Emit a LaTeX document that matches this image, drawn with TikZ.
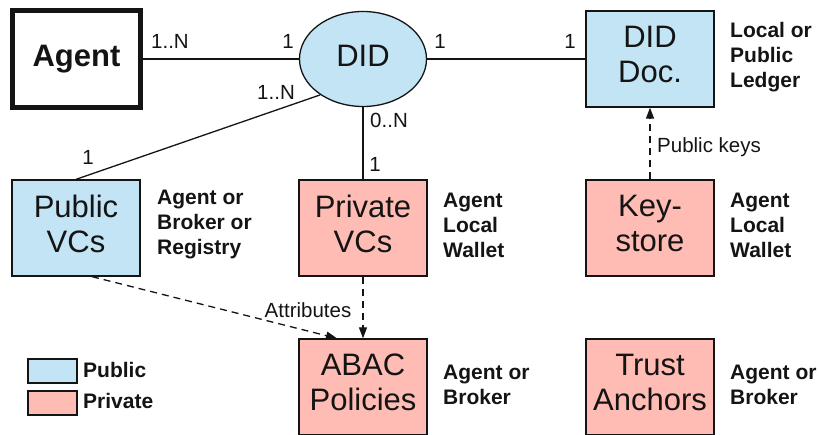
\documentclass[tikz,border=0pt]{standalone}
\usepackage{fontspec}
\setmainfont{Liberation Sans}
\usetikzlibrary{arrows.meta,shapes.geometric}
\definecolor{pubfill}{RGB}{194,228,245}
\definecolor{privfill}{RGB}{255,188,180}
\definecolor{ink}{RGB}{20,20,20}
\begin{document}
\begin{tikzpicture}[x=1pt,y=-1pt,
  box/.style={draw=ink, line width=1.3pt, minimum width=128pt, minimum height=96pt,
    inner sep=0pt, align=center, text=ink, text depth=9pt,
    font=\fontsize{31}{35}\selectfont},
  pubbox/.style={box, fill=pubfill},
  privbox/.style={box, fill=privfill},
  side/.style={anchor=west, align=left, inner sep=0pt, text=ink,
    font=\fontsize{21}{25}\selectfont\bfseries},
  mult/.style={text=ink, font=\fontsize{20.5}{24}\selectfont, inner sep=0pt},
  link/.style={draw=ink, line width=1.3pt},
  dep/.style={draw=ink, line width=1.3pt, dash pattern=on 7pt off 5pt,
    -{Triangle[length=11pt,width=8pt]}},
  legend/.style={draw=ink, line width=1.3pt, minimum width=49pt, minimum height=24pt, inner sep=0pt},
]
\useasboundingbox (0,0) rectangle (819,435);

% entities
\node[box, line width=5pt, minimum width=128pt, minimum height=97pt, text depth=6pt,
      font=\fontsize{31}{35}\selectfont\bfseries] (agent) at (76.5,59) {Agent};
\node[ellipse, draw=ink, line width=1.3pt, fill=pubfill, minimum width=127pt,
      minimum height=95pt, inner sep=0pt, text=ink, text depth=6pt,
      font=\fontsize{31}{35}\selectfont] (did) at (363,59) {DID};
\node[pubbox]  (doc)   at (650,59)  {DID\\Doc.};
\node[pubbox]  (pub)   at (76,228)  {Public\\VCs};
\node[privbox] (priv)  at (363,228) {Private\\VCs};
\node[privbox] (key)   at (650,228) {Key-\\store};
\node[privbox] (abac)  at (363,387) {ABAC\\Policies};
\node[privbox] (trust) at (650,387) {Trust\\Anchors};

% where each store lives
\node[side] (ledger)  at (730,57)  {Local or\\Public\\Ledger};
\node[side] (publoc)  at (157,225) {Agent or\\Broker or\\Registry};
\node[side] (privloc) at (443,225) {Agent\\Local\\Wallet};
\node[side] (keyloc)  at (730,225) {Agent\\Local\\Wallet};
\node[side] (abacloc) at (443,385) {Agent or\\Broker};
\node[side] (trustloc) at (730,385) {Agent or\\Broker};

% relations with multiplicities
\draw[link] (agent.east) -- (did.west);
\node[mult] (m1) at (170,41) {1..N};
\node[mult] (m2) at (288,41) {1};
\draw[link] (did.east) -- (doc.west);
\node[mult] (m3) at (440,41) {1};
\node[mult] (m4) at (570,41) {1};
\draw[link] (pub.north) -- (did.220);
\node[mult] (m5) at (276,92) {1..N};
\node[mult] (m6) at (88,157) {1};
\draw[link] (did.south) -- (priv.north);
\node[mult] (m7) at (389,120) {0..N};
\node[mult] (m8) at (375,164) {1};

% data flows
\draw[dep] (key.north) -- (doc.south);
\node[mult, anchor=west] (pk) at (657,147) {Public keys};
\draw[dep] (priv.south) -- (abac.north);
\draw[dep] ([xshift=16pt]pub.south) -- ([xshift=-26pt]abac.north);
\node[mult] (attr) at (308,310) {Attributes};

% legend
\node[legend, fill=pubfill]  (lgpub)  at (52.5,371) {};
\node[legend, fill=privfill] (lgpriv) at (52.5,403) {};
\node[side] (lgpubt)  at (83,370) {Public};
\node[side] (lgprivt) at (83,401) {Private};
\end{tikzpicture}
\end{document}
